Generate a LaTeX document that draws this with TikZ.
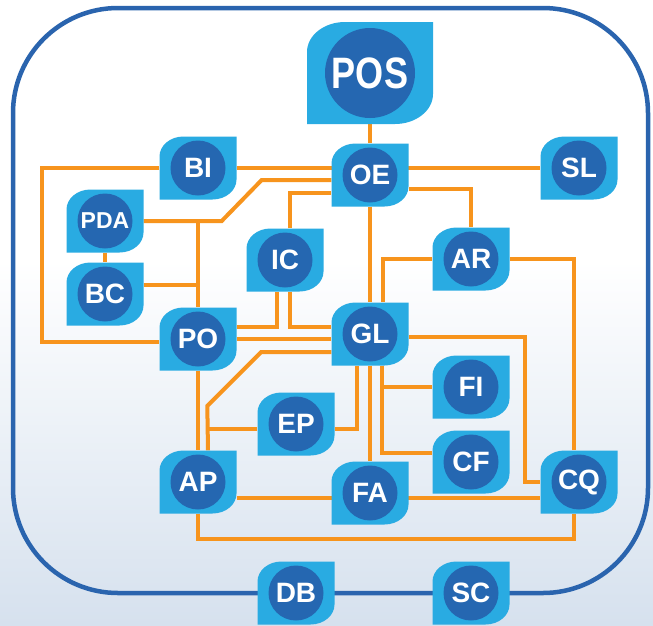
\documentclass[tikz,border=0pt]{standalone}
\usepackage{fontspec}
\setmainfont{Liberation Sans}
\usepackage{graphicx}
\usepackage{tikz}
\usetikzlibrary{backgrounds}
\definecolor{tile-cyan}{HTML}{29ABE2}
\definecolor{disc-blue}{HTML}{2567B1}
\definecolor{frame-blue}{HTML}{2A64AE}
\definecolor{link-orange}{HTML}{F7941D}
\definecolor{floor-blue}{HTML}{D6E1EE}
\tikzset{
    leaf-tile/.style n args = {5}{rectangle, minimum width=#1, minimum height=#2, inner sep=0pt, text=white,
        path picture={
            \fill[tile-cyan] (path picture bounding box.south west) -- ([yshift=-#4]path picture bounding box.north west)
                arc[start angle=180, end angle=90, x radius=#3, y radius=#4] -- (path picture bounding box.north east)
                -- ([yshift=#4]path picture bounding box.south east)
                arc[start angle=0, end angle=-90, x radius=#3, y radius=#4] -- cycle;
            \fill[disc-blue] (path picture bounding box.center) circle[radius=#5];
        }},
    leaf-box/.style = {leaf-tile={77pt}{63pt}{24pt}{20pt}{27.5pt}, font=\bfseries\fontsize{28}{28}\selectfont},
    leaf-box-big/.style = {leaf-tile={126pt}{102pt}{38pt}{30pt}{45pt}, font=\bfseries\fontsize{44}{44}\selectfont},
    link/.style = {draw=link-orange, line width=4pt},
    outer-frame/.style = {draw=frame-blue, line width=4.5pt, rounded corners=105pt},
}

\begin{document}
\begin{tikzpicture}[x=1pt, y=1pt]
\useasboundingbox (0,0) rectangle (653,-625);

% tiles
\node[leaf-box-big] (POS) at (370,-73) {\scalebox{0.82}[1]{POS}};
\node[leaf-box] (BI) at (198,-168) {BI};
\node[leaf-box] (OE) at (370,-175) {OE};
\node[leaf-box] (SL) at (579,-168) {SL};
\node[leaf-box, font=\bfseries\fontsize{23}{23}\selectfont] (PDA) at (105,-221) {PDA};
\node[leaf-box] (BC) at (105,-294) {BC};
\node[leaf-box] (IC) at (285,-260) {IC};
\node[leaf-box] (AR) at (471,-259) {AR};
\node[leaf-box] (PO) at (198,-339) {PO};
\node[leaf-box] (GL) at (370,-334) {GL};
\node[leaf-box] (EP) at (296,-424) {EP};
\node[leaf-box] (FI) at (471,-387) {FI};
\node[leaf-box] (CF) at (471,-462) {CF};
\node[leaf-box] (AP) at (198,-482) {AP};
\node[leaf-box] (FA) at (370,-493) {FA};
\node[leaf-box] (CQ) at (579,-482) {CQ};
\node[leaf-box] (DB) at (296,-593) {DB};
\node[leaf-box] (SC) at (471,-593) {SC};

\begin{scope}[on background layer]
% backdrop and frame
\fill[white] (0,0) rectangle (653,-625);
\shade[top color=white, bottom color=floor-blue] (0,-260) rectangle (653,-625);
\draw[outer-frame] (13,-8) rectangle (648,-593);

% links
\draw[link] (POS) -- (OE);
\draw[link] (BI) -- (SL);
\draw[link] (BI.west) -- ++(-117,0) |- ([yshift=-3pt]PO.west);
\draw[link] (PDA.east) -- ++(78,0) -- ++(40,41) -- ([yshift=-5pt]OE.west);
\draw[link] (PO |- PDA.east) -- (PO);
\draw[link] (PDA) -- (BC);
\draw[link] ([yshift=9pt]BC.east) -- ++(55,0);
\draw[link] ([xshift=5pt]IC.north) |- ([yshift=-18pt]OE.west);
\draw[link] ([xshift=-8pt]IC.south) |- ([yshift=12pt]PO.east);
\draw[link] ([xshift=5pt]IC.south) |- ([yshift=7pt]GL.west);
\draw[link] (PO.east) -- (PO.east -| GL.west);
\draw[link] ([yshift=-18pt]GL.west) -- ++(-70,0) -- ++(-54,-54) -- ([xshift=10pt]AP.north);
\draw[link] ([yshift=-5pt]EP.west) -- ++(-50,0);
\draw[link] ([yshift=-5pt]EP.east) -| ([xshift=-13pt]GL.south);
\draw[link] (OE) -- (GL);
\draw[link] (GL) -- (FA);
\draw[link] ([xshift=12pt]GL.south) |- (FI.west);
\draw[link] ([xshift=12pt]GL.south) |- ([yshift=9pt]CF.west);
\draw[link] ([yshift=-3pt]GL.east) -- ++(116,0) |- (CQ.west);
\draw[link] (AR.west) -| ([xshift=13pt]GL.north);
\draw[link] (AR.east) -| ([xshift=-5pt]CQ.north);
\draw[link] ([yshift=-14pt]OE.east) -| (AR.north);
\draw[link] ([yshift=-16pt]AP.east) -- ([yshift=-16pt]CQ.west);
\draw[link] (AP.south) -- ++(0,-25) -| ([xshift=-5pt]CQ.south);
\draw[link] (PO) -- (AP);
\end{scope}
\end{tikzpicture}
\end{document}
